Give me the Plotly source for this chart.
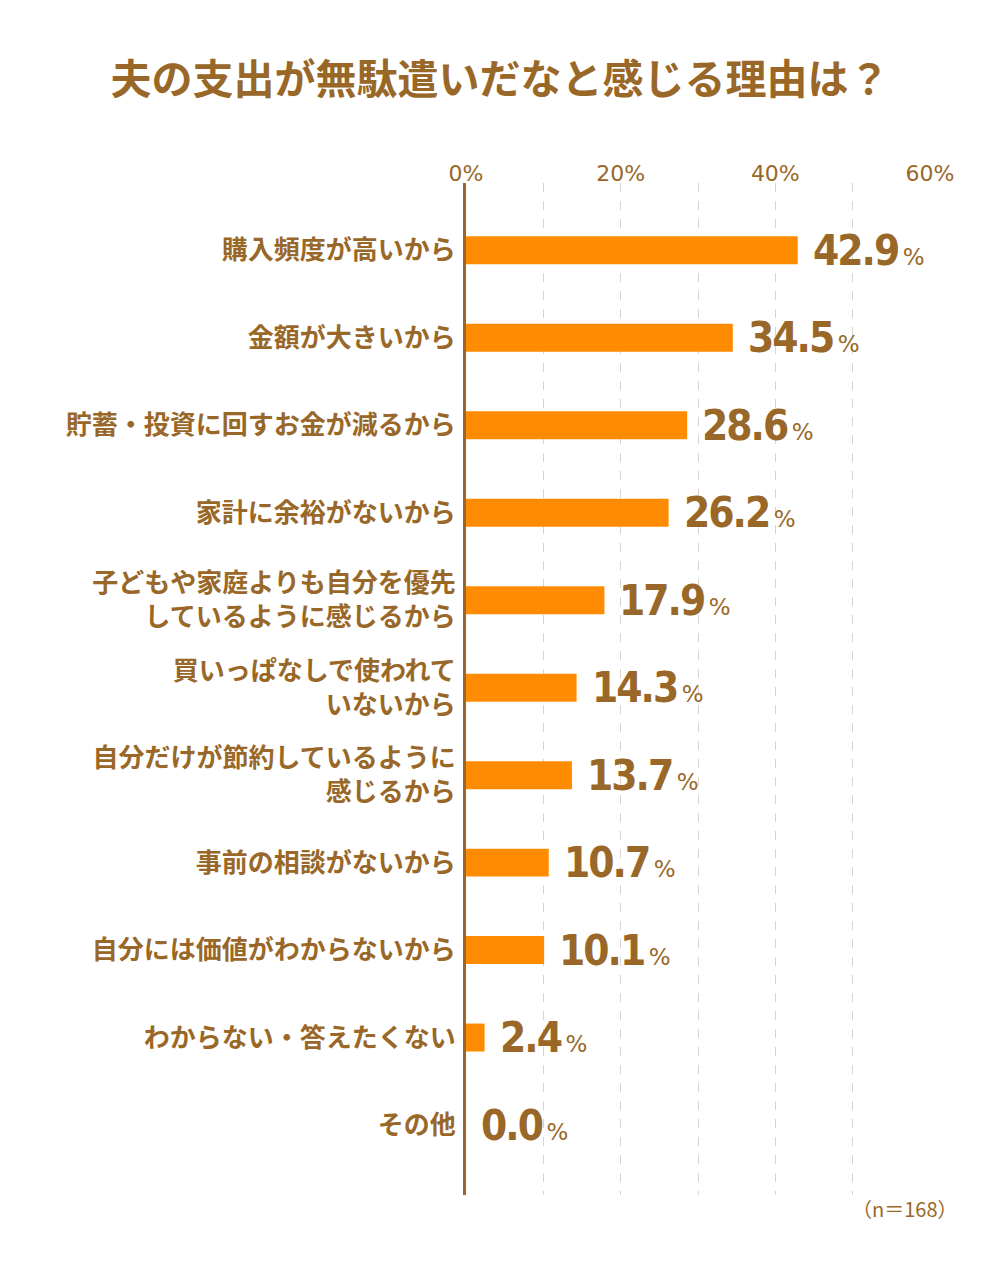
import plotly.graph_objects as go

reasons = [
    '購入頻度が高いから',
    '金額が大きいから',
    '貯蓄・投資に回すお金が減るから',
    '家計に余裕がないから',
    '子どもや家庭よりも自分を優先<br>しているように感じるから',
    '買いっぱなしで使われて<br>いないから',
    '自分だけが節約しているように<br>感じるから',
    '事前の相談がないから',
    '自分には価値がわからないから',
    'わからない・答えたくない',
    'その他',
]
shares = [42.9, 34.5, 28.6, 26.2, 17.9, 14.3, 13.7, 10.7, 10.1, 2.4, 0.0]
tick_vals = [0, 20, 40, 60]
tick_text = ['0%', '20%', '40%', '60%']

brown = '#996828'
orange = '#FF8C00'
grid = '#DCD4CC'
jp_font = 'Noto Sans CJK JP'
num_font = 'DejaVu Sans'

fig = go.Figure(go.Bar(
    x=shares,
    y=reasons,
    orientation='h',
    width=0.32,
    marker=dict(color=orange, line=dict(width=0)),
    hoverinfo='skip',
))

# value labels: big condensed number + small percent sign
for r, v in zip(reasons, shares):
    fig.add_annotation(
        x=v, y=r, xref='x', yref='y',
        text=('<b><span style="font-stretch:condensed;letter-spacing:-2px">%.1f</span></b>'
              '<span style="font-size:23px">\u2009%%</span>') % v,
        showarrow=False, xanchor='left', yanchor='middle', xshift=13,
        font=dict(family=num_font, size=42, color=brown),
    )

fig.add_annotation(
    x=(905 - 466) / 464.0, y=-(1208 - 1195) / 1012.0,
    xref='paper', yref='paper', xanchor='center', yanchor='middle',
    text='（n＝168）', showarrow=False,
    font=dict(family=jp_font, size=20, color=brown),
)

fig.update_layout(
    width=1000, height=1280,
    margin=dict(l=466, r=70, t=183, b=85, pad=0),
    paper_bgcolor='white', plot_bgcolor='white',
    showlegend=False,
    title=dict(
        text='<b>夫の支出が無駄遣いだなと感じる理由は？</b>',
        x=0.5, xanchor='center', y=1 - 80 / 1280, yanchor='middle',
        font=dict(family=jp_font, size=41, color=brown),
    ),
    xaxis=dict(
        side='top', range=[0, 60],
        tickvals=tick_vals, ticktext=tick_text,
        tickfont=dict(family=num_font, size=22, color=brown),
        showgrid=True, gridcolor=grid, griddash='dash', gridwidth=1,
        minor=dict(dtick=10, tick0=0, showgrid=True, gridcolor=grid, griddash='dash', gridwidth=1),
        zeroline=False, showline=False, ticks='', ticklabelstandoff=-3,
    ),
    yaxis=dict(
        categoryorder='array', categoryarray=reasons,
        range=[10.8, -0.77],
        tickfont=dict(family=jp_font, size=26, color=brown, weight='bold'),
        showline=True, linecolor=brown, linewidth=3,
        showgrid=False, zeroline=False, ticks='', ticklabelstandoff=2,
    ),
)

fig.write_html('out.html', config={'displayModeBar': False},
               post_script="document.body.style.margin='0';")
